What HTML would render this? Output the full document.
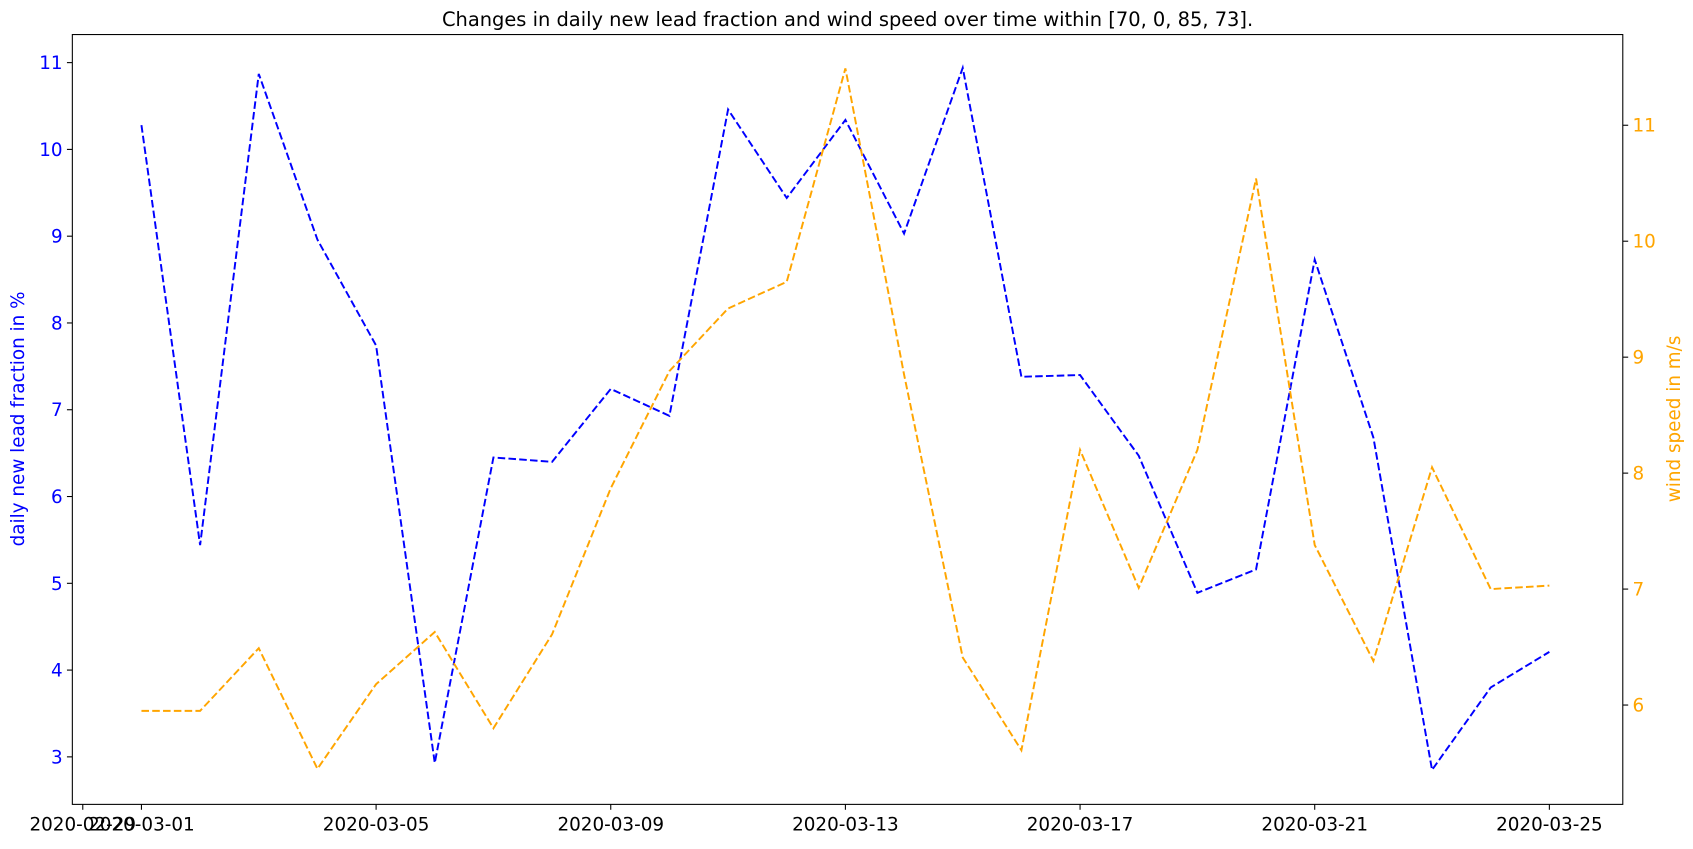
<!DOCTYPE html>
<html><head><meta charset="utf-8"><style>
body{margin:0;background:#fff;font-family:"Liberation Sans","DejaVu Sans",sans-serif;}
svg text{font-family:"DejaVu Sans","Liberation Sans",sans-serif;}
</style></head><body>
<svg id="chart" width="1693" height="844" xmlns="http://www.w3.org/2000/svg">
<g transform="scale(1.0797)">
<text x="785" y="24" font-size="18" text-anchor="middle">Changes in daily new lead fraction and wind speed over time within [70, 0, 85, 73].</text>
<g id="g"></g>
</g>
</svg>
<script>
const dates=["2020-03-01","2020-03-02","2020-03-03","2020-03-04","2020-03-05","2020-03-06","2020-03-07","2020-03-08","2020-03-09","2020-03-10","2020-03-11","2020-03-12","2020-03-13","2020-03-14","2020-03-15","2020-03-16","2020-03-17","2020-03-18","2020-03-19","2020-03-20","2020-03-21","2020-03-22","2020-03-23","2020-03-24","2020-03-25"];
const leadFraction=[10.28,5.44,10.87,8.96,7.74,2.93,6.45,6.40,7.24,6.93,10.46,9.44,10.34,9.03,10.94,7.38,7.40,6.47,4.89,5.16,8.73,6.68,2.85,3.80,4.21];
const windSpeed=[5.95,5.95,6.49,5.45,6.18,6.63,5.80,6.61,7.87,8.88,9.42,9.65,11.49,8.85,6.41,5.61,8.20,7.01,8.20,10.54,7.38,6.38,8.05,7.00,7.03];
const xTickLabels=["2020-02-29","2020-03-01","2020-03-05","2020-03-09","2020-03-13","2020-03-17","2020-03-21","2020-03-25"];
const xTickDays=[-1,0,4,8,12,16,20,24];
const leftTicks=[3,4,5,6,7,8,9,10,11];
const rightTicks=[6,7,8,9,10,11];

const L=67,R=1503,T=32,B=745;
const NS="http://www.w3.org/2000/svg";
const g=document.getElementById('g');
const x=d=>131+d*(1435-131)/24;
const yL=v=>701-(v-3)*(701-58)/8;
const yR=v=>653-(v-6)*(653-116)/5;
function el(t,a){const e=document.createElementNS(NS,t);for(const k in a)e.setAttribute(k,a[k]);g.appendChild(e);return e;}

const frame=el('rect',{x:L,y:T,width:R-L,height:B-T,fill:'none',stroke:'#000','stroke-width':1});



xTickDays.forEach((d,i)=>{
  const px=x(d);
  const tk=el('line',{x1:px,x2:px,y1:B,y2:B+5,stroke:'#000'});
  
  
  const t=el('text',{x:px,y:B+24,'font-size':17,'text-anchor':'middle'});
  t.textContent=xTickLabels[i];
  
  
});
leftTicks.forEach(v=>{
  const py=yL(v);
  const tk=el('line',{x1:L-5,x2:L,y1:py,y2:py,stroke:'#000'});
  
  
  const t=el('text',{x:L-9,y:py+6,'font-size':17,'text-anchor':'end',fill:'blue'});
  t.textContent=v;
  
  
});
rightTicks.forEach(v=>{
  const py=yR(v);
  const tk=el('line',{x1:R,x2:R+5,y1:py,y2:py,stroke:'#000'});
  
  
  const t=el('text',{x:R+9,y:py+6,'font-size':17,'text-anchor':'start',fill:'orange'});
  t.textContent=v;
  
  
});
const yl=el('text',{x:0,y:0,'font-size':17,'text-anchor':'middle',fill:'blue',transform:'translate(22,388) rotate(-90)'});
yl.textContent='daily new lead fraction in %';


const yr=el('text',{x:0,y:0,'font-size':17,'text-anchor':'middle',fill:'orange',transform:'translate(1556,388) rotate(-90)'});
yr.textContent='wind speed in m/s';



const lp=el('polyline',{points:leadFraction.map((v,i)=>x(i)+','+yL(v)).join(' '),fill:'none',stroke:'blue','stroke-width':1.8,'stroke-dasharray':'7,3'});


const wp=el('polyline',{points:windSpeed.map((v,i)=>x(i)+','+yR(v)).join(' '),fill:'none',stroke:'orange','stroke-width':1.8,'stroke-dasharray':'7,3'});


</script>
</body></html>
